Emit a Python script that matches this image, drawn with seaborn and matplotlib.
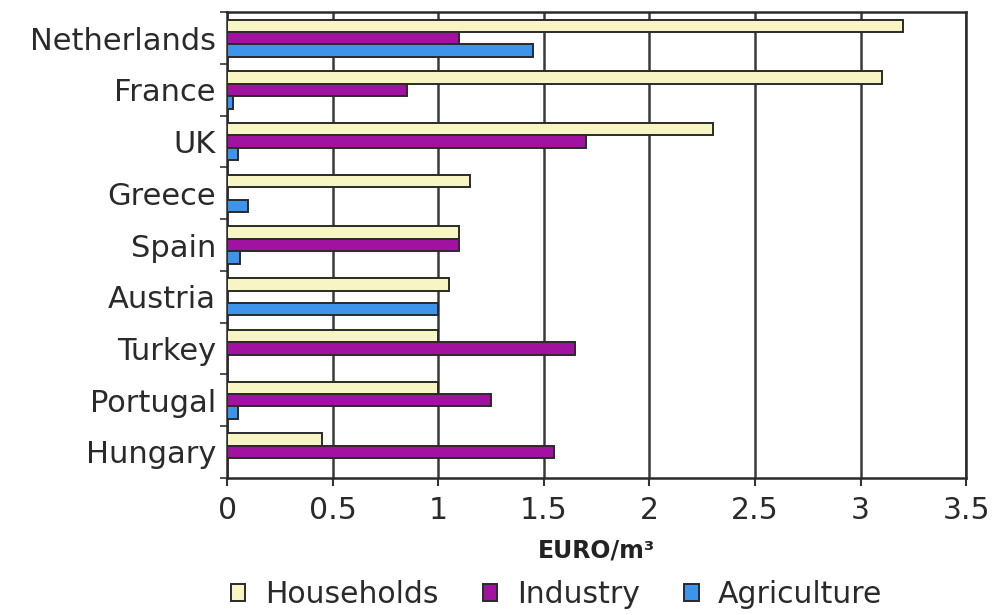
import matplotlib
matplotlib.use("Agg")
import matplotlib.pyplot as plt
import seaborn as sns
import pandas as pd
import numpy as np
from matplotlib.patches import Patch

countries = ["Netherlands", "France", "UK", "Greece", "Spain",
             "Austria", "Turkey", "Portugal", "Hungary"]
households = [3.2, 3.1, 2.3, 1.15, 1.1, 1.05, 1.0, 1.0, 0.45]
industry = [1.1, 0.85, 1.7, 0.0, 1.1, 0.0, 1.65, 1.25, 1.55]
agriculture = [1.45, 0.03, 0.05, 0.1, 0.06, 1.0, 0.0, 0.05, 0.0]
sectors = ["Households", "Industry", "Agriculture"]
colors = ["#F7F5C4", "#A0129F", "#3E94EA"]
xticks = [0, 0.5, 1, 1.5, 2, 2.5, 3, 3.5]
xtick_labels = ["0", "0.5", "1", "1.5", "2", "2.5", "3", "3.5"]

df = pd.DataFrame({
    "Country": countries * 3,
    "Sector": sum([[s] * len(countries) for s in sectors], []),
    "Value": households + industry + agriculture,
})

sns.set_theme(style="white")
plt.rcParams["font.family"] = ["DejaVu Sans"]

fig = plt.figure(figsize=(9.96, 6.15), dpi=100)
ax = fig.add_axes([0.228, 0.223, 0.742, 0.757])

sns.barplot(data=df, y="Country", x="Value", hue="Sector", order=countries,
            hue_order=sectors, palette=colors, orient="h", width=0.72,
            edgecolor="#2a2a2a", linewidth=1.4, saturation=1, ax=ax,
            legend=False, zorder=3)

ax.set_xlim(0, 3.5)
ax.set_ylim(len(countries) - 0.5, -0.5)
ax.set_xticks(xticks)
ax.set_xticklabels(xtick_labels)
ax.xaxis.grid(True, color="#3a3a3a", linewidth=1.8, zorder=0)
ax.set_axisbelow(True)

ax.set_yticks(range(len(countries)))
ax.set_yticklabels(countries)
ax.set_yticks(np.arange(-0.5, len(countries) - 0.4, 1.0), minor=True)
ax.tick_params(axis="y", which="major", length=0, pad=8, labelsize=22,
               labelcolor="#2a2a2a")
ax.tick_params(axis="y", which="minor", left=True, length=5, width=1.2,
               color="#333333", direction="out")
ax.tick_params(axis="x", which="major", bottom=True, length=6, width=1.5,
               color="#333333", direction="out", labelsize=21.5, pad=7,
               labelcolor="#2a2a2a")

for side in ["top", "right", "left", "bottom"]:
    ax.spines[side].set_visible(True)
    ax.spines[side].set_color("#2a2a2a")
    ax.spines[side].set_linewidth(1.8)

ax.set_ylabel("")
ax.set_xlabel("EURO/m³", fontsize=17, fontweight="bold", color="#222222",
              labelpad=10)

handles = [Patch(facecolor=c, edgecolor="#2a2a2a", linewidth=1.4, label=s)
           for c, s in zip(colors, sectors)]
fig.legend(handles=handles, loc="center", bbox_to_anchor=(0.559, 0.033),
           ncol=3, frameon=False, fontsize=21.5, handlelength=0.48,
           handleheight=0.48, handletextpad=0.65, columnspacing=1.5,
           labelcolor="#2a2a2a")

fig.savefig("out.png", dpi=100)
